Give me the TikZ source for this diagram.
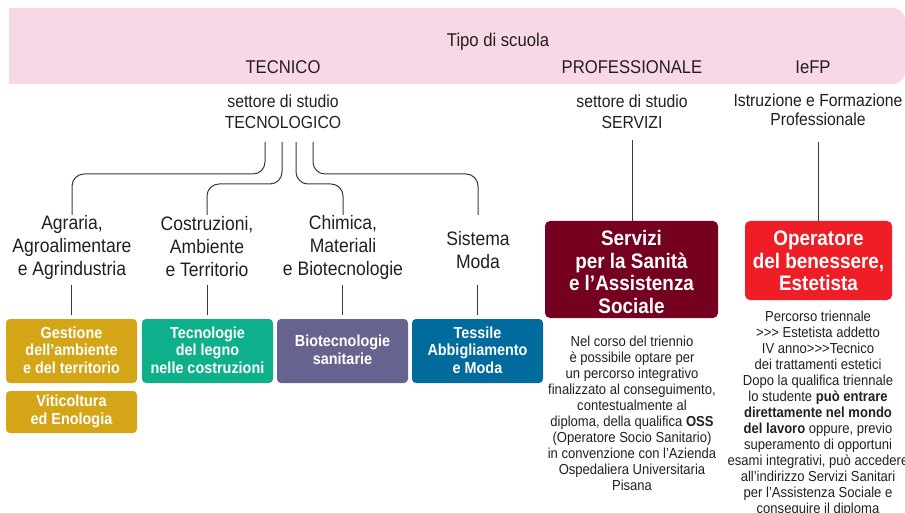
\documentclass[tikz,border=0pt]{standalone}
\usepackage{fontspec}
\setmainfont{Liberation Sans}[FakeStretch=0.9]
\definecolor{bandpink}{HTML}{F8D7E6}
\definecolor{txt}{HTML}{231F20}
\definecolor{lineg}{HTML}{3A3A3A}
\definecolor{mustard}{HTML}{D4A517}
\definecolor{teal}{HTML}{0DB08A}
\definecolor{purp}{HTML}{67638F}
\definecolor{blu}{HTML}{006B9C}
\definecolor{maroon}{HTML}{76001F}
\definecolor{redb}{HTML}{EE1D26}
\newcommand{\ggg}{{>}{>}{>}}
\tikzset{
  every node/.style={text=txt, inner sep=0pt},
  hdr/.style={font=\fontsize{18.5}{21}\selectfont, align=center},
  sect/.style={font=\fontsize{17.5}{21}\selectfont, align=center},
  lab/.style={font=\fontsize{19.5}{23}\selectfont, align=center},
  conn/.style={draw=lineg, line width=1pt, rounded corners=12pt},
  vline/.style={draw=lineg, line width=1pt},
  cbox/.style={rounded corners=4pt, text=white, font=\bfseries\fontsize{16}{17.5}\selectfont, align=center},
  bigbox/.style={rounded corners=5pt, text=white, font=\bfseries\fontsize{21}{22.5}\selectfont, align=center},
  small/.style={font=\fontsize{14.5}{16}\selectfont, align=center},
}
\begin{document}
\begin{tikzpicture}[x=1pt,y=-1pt]
\useasboundingbox (0,0) rectangle (905,513);
% band
\fill[bandpink, rounded corners=12pt] (905,8) -- (905,84) -- (9,84) [sharp corners] -- (9,8) [rounded corners=12pt] -- cycle;
\fill[bandpink] (9,8) rectangle (40,84);
\node[hdr] (tipo) at (498,42) {Tipo di scuola};
\node[hdr] (tec) at (283,67) {TECNICO};
\node[hdr] (pro) at (632,67) {PROFESSIONALE};
\node[hdr] (iefp) at (813,67) {IeFP};
% sectors
\node[sect] (tecnol) at (283,112) {settore di studio\\TECNOLOGICO};
\node[sect] (serv) at (632,112) {settore di studio\\SERVIZI};
\node[sect, font=\fontsize{17.5}{19}\selectfont] (istr) at (818,110) {Istruzione e Formazione\\Professionale};
% labels
\node[lab] (agr) at (72,247) {Agraria,\\Agroalimentare\\e Agrindustria};
\node[lab] (cos) at (207,247) {Costruzioni,\\Ambiente\\e Territorio};
\node[lab] (chi) at (343,247) {Chimica,\\Materiali\\e Biotecnologie};
\node[lab] (sis) at (478,250) {Sistema\\Moda};
% connector start points
\coordinate (s1) at (265,142);
\coordinate (s2) at (282,142);
\coordinate (s3) at (296,142);
\coordinate (s4) at (313,142);
\coordinate (e1) at (72,215);
\coordinate (e2) at (207,215);
\coordinate (e3) at (343,215);
\coordinate (e4) at (478,215);
\draw[conn] (s1) -- (s1 |- 0,174) -- (e1 |- 0,174) -- (e1);
\draw[conn] (s2) -- (s2 |- 0,184) -- (e2 |- 0,184) -- (e2);
\draw[conn] (s3) -- (s3 |- 0,184) -- (e3 |- 0,184) -- (e3);
\draw[conn] (s4) -- (s4 |- 0,174) -- (e4 |- 0,174) -- (e4);
% boxes
\fill[mustard, rounded corners=4pt] (6,319) rectangle (137,383);
\node[cbox] (b1) at (71.5,350) {Gestione\\dell’ambiente\\e del territorio};
\fill[mustard, rounded corners=4pt] (6,391) rectangle (137,433);
\node[cbox] (b1b) at (71.5,411.5) {Viticoltura\\ed Enologia};
\fill[teal, rounded corners=4pt] (142,319) rectangle (273,383);
\node[cbox] (b2) at (207.5,350) {Tecnologie\\del legno\\nelle costruzioni};
\fill[purp, rounded corners=4pt] (277,319) rectangle (408,383);
\node[cbox] (b3) at (342.5,350) {Biotecnologie\\sanitarie};
\fill[blu, rounded corners=4pt] (412,319) rectangle (543,383);
\node[cbox] (b4) at (477.5,350) {Tessile\\Abbigliamento\\e Moda};
\coordinate (t1) at (71.5,285); \coordinate (u1) at (71.5,315);
\coordinate (t2) at (207.5,285); \coordinate (u2) at (207.5,315);
\coordinate (t3) at (342.5,285); \coordinate (u3) at (342.5,315);
\coordinate (t4) at (477.5,285); \coordinate (u4) at (477.5,315);
\draw[vline] (t1) -- (u1);
\draw[vline] (t2) -- (u2);
\draw[vline] (t3) -- (u3);
\draw[vline] (t4) -- (u4);
% servizi column
\fill[maroon, rounded corners=5pt] (545,221) rectangle (718,318);
\node[bigbox] (bs) at (631.5,272) {Servizi\\per la Sanità\\e l’Assistenza\\Sociale};
\coordinate (sv1) at (632,140); \coordinate (sv2) at (632,221);
\draw[vline] (sv1) -- (sv2);
\node[small] (ts) at (632,413) {Nel corso del triennio\\è possibile optare per\\un percorso integrativo\\finalizzato al conseguimento,\\contestualmente al\\diploma, della qualifica \textbf{OSS}\\(Operatore Socio Sanitario)\\in convenzione con l’Azienda\\Ospedaliera Universitaria\\Pisana};
% iefp column
\fill[redb, rounded corners=5pt] (745,221) rectangle (892,300);
\node[bigbox] (bo) at (818.5,261) {Operatore\\del benessere,\\Estetista};
\coordinate (iv1) at (818,142); \coordinate (iv2) at (818,221);
\draw[vline] (iv1) -- (iv2);
\node[small] (to) at (818,414) {Percorso triennale\\\ggg{} Estetista addetto\\IV anno\ggg{}Tecnico\\dei trattamenti estetici\\Dopo la qualifica triennale\\lo studente \textbf{può entrare}\\\textbf{direttamente nel mondo}\\\textbf{del lavoro} oppure, previo\\superamento di opportuni\\esami integrativi, può accedere\\all’indirizzo Servizi Sanitari\\per l’Assistenza Sociale e\\conseguire il diploma};
\end{tikzpicture}
\end{document}
